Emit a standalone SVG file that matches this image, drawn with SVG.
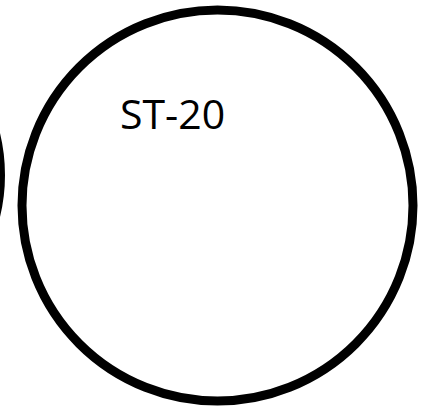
<svg xmlns="http://www.w3.org/2000/svg" width="423" height="407" viewBox="0 0 423 407">
<style>
.ring{fill:#fff;stroke:#000;stroke-width:9}
.lbl{font-family:"Open Sans","Liberation Sans",sans-serif;font-size:41px;fill:#000}
</style>
<rect width="423" height="407" fill="#fff"/>
<g id="node-left">
<circle class="ring" cx="-174" cy="175" r="174.5"/>
</g>
<g id="node-st20">
<circle class="ring" cx="217.5" cy="205.5" r="195.5"/>
<text class="lbl" x="120" y="129">ST-20</text>
</g>
<g id="connectors"></g>
</svg>
